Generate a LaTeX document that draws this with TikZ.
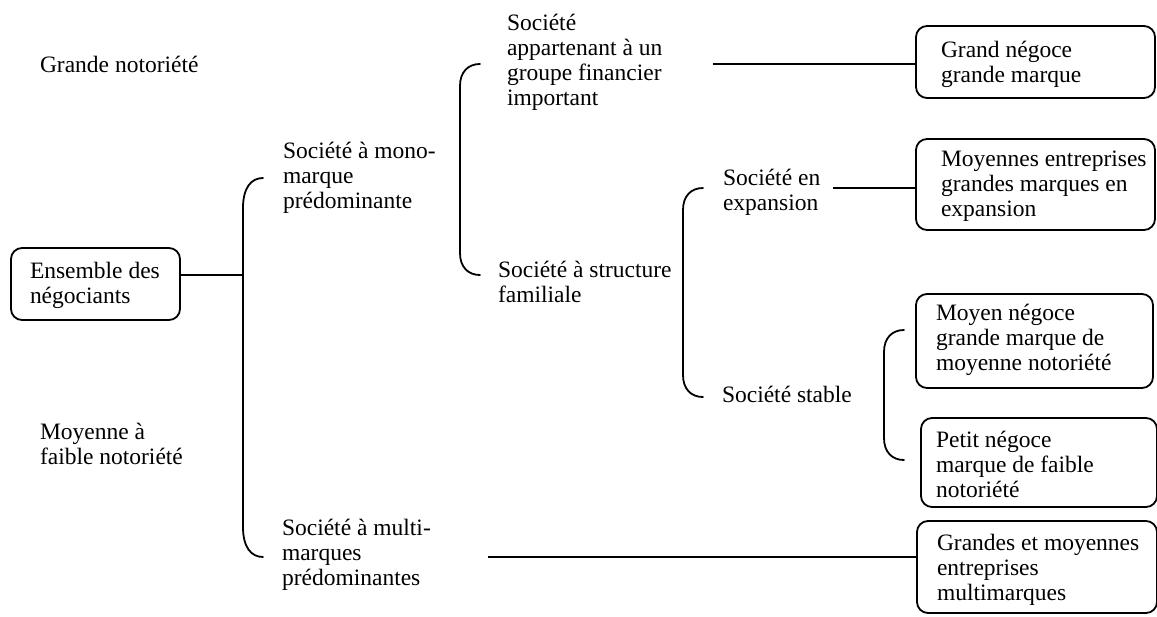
\documentclass[tikz,border=0pt]{standalone}
\usepackage{fontspec}
\setmainfont{Liberation Serif}
\newcommand\firststrut{\rule{0pt}{18pt}}
\begin{document}
\begin{tikzpicture}[x=1pt,y=-1pt,line width=1.8pt,
  box/.style={draw, line width=1.8pt, rounded corners=11pt, inner sep=0pt, outer sep=0pt, anchor=north west},
  txt/.style={anchor=north west, inner sep=0pt, outer sep=0pt, align=left, font=\fontsize{23.5}{25}\selectfont},
  conn/.style={line width=1.8pt},
  brk/.style={line width=1.8pt, line cap=round}]
\useasboundingbox (0,0) rectangle (1157,616);

% boxes
\node[box, minimum width=169pt, minimum height=72pt] (ens) at (11,248) {};
\node[box, minimum width=239pt, minimum height=72pt] (grand) at (916,26) {};
\node[box, minimum width=239pt, minimum height=91pt] (moyE) at (916,139) {};
\node[box, minimum width=237pt, minimum height=94pt] (moyN) at (916,294) {};
\node[box, minimum width=236pt, minimum height=89pt] (petit) at (921,418) {};
\node[box, minimum width=240pt, minimum height=92pt] (grandes) at (917,521) {};

% box texts
\node[txt] (ensT) at (30,260) {\firststrut Ensemble des\\négociants};
\node[txt] (grandT) at (941,39) {\firststrut Grand négoce\\grande marque};
\begin{scope}
\clip (916,139) rectangle (1157,221.5);
\node[txt] (moyET) at (941,148) {\firststrut Moyennes entreprises\\grandes marques en\\expansion};
\end{scope}
\node[txt] (moyNT) at (936,302) {\firststrut Moyen négoce\\grande marque de\\moyenne notoriété};
\node[txt] (petitT) at (936,429) {\firststrut Petit négoce\\marque de faible\\notoriété};
\node[txt] (grandesT) at (937,532) {\firststrut Grandes et moyennes\\entreprises\\multimarques};

% free texts
\node[txt] (gn) at (40,54) {\firststrut Grande notoriété};
\node[txt] (mf) at (40,421) {\firststrut Moyenne à\\faible notoriété};
\node[txt] (mono) at (283,140) {\firststrut Société à mono-\\marque\\prédominante};
\node[txt] (multi) at (282,517) {\firststrut Société à multi-\\marques\\prédominantes};
\node[txt] (grp) at (507,12) {\firststrut Société\\appartenant à un\\groupe financier\\important};
\node[txt] (fam) at (498,259) {\firststrut Société à structure\\familiale};
\node[txt] (exp) at (723,167) {\firststrut Société en\\expansion};
\node[txt] (stab) at (722,384) {\firststrut Société stable};

% brackets
\draw[brk] (263,178) .. controls (251,178) and (243,188) .. (243,208) -- (243,527) .. controls (243,547) and (251,557) .. (263,557);
\draw[brk] (480,64) .. controls (468,64) and (460,72) .. (460,86) -- (460,253) .. controls (460,267) and (468,275) .. (480,275);
\draw[brk] (703,188) .. controls (691,188) and (683,196) .. (683,210) -- (683,375) .. controls (683,389) and (691,397) .. (703,397);
\draw[brk] (904,330) .. controls (892,330) and (884,338) .. (884,352) -- (884,438) .. controls (884,452) and (892,460) .. (904,460);

% connectors
\coordinate (j1) at (243,275);
\draw[conn] (ens.east |- j1) -- (j1);
\coordinate (s1) at (713,64);
\draw[conn] (s1) -- (s1 -| grand.west);
\coordinate (s2) at (833,188);
\draw[conn] (s2) -- (s2 -| moyE.west);
\coordinate (s3) at (488,557);
\draw[conn] (s3) -- (s3 -| grandes.west);
\end{tikzpicture}
\end{document}
